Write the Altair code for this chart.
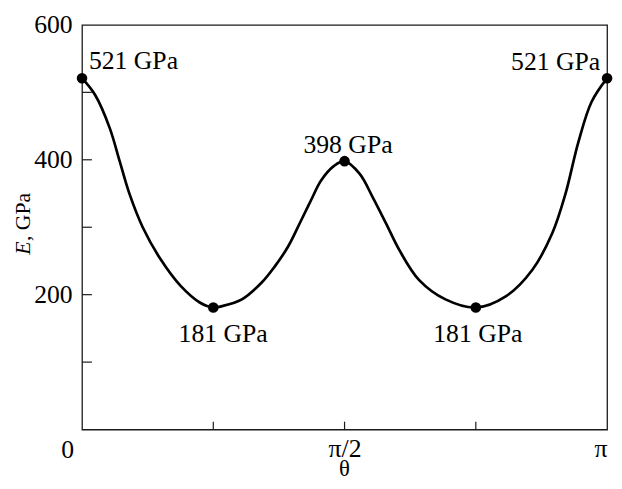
import altair as alt
import pandas as pd

# ---- data ----
theta_deg = [0, 4.5, 9.5, 12.9, 16.3, 20.8, 27.0, 33.8, 40.5, 45,
             48.0, 54.8, 61.6, 66.1, 70.6, 75.1, 78.5, 81.9, 86.4, 90,
             95.2, 99.7, 104.3, 108.8, 115.5, 124.6, 135,
             145.4, 154.4, 161.2, 165.7, 170.2, 174.7, 180]
modulus = [521, 496, 447, 398, 349, 300, 252, 213, 188, 181,
           183, 193, 218, 242, 271, 310, 340, 369, 391, 398,
           379, 344, 305, 266, 222, 193, 181,
           198, 237, 291, 349, 427, 486, 521]

key_theta = [0, 45, 90, 135, 180]
key_E = [521, 181, 398, 181, 521]
key_labels = ["521 GPa", "181 GPa", "398 GPa", "181 GPa", "521 GPa"]

y_minor_ticks = [100, 200, 300, 400, 500]
y_tick_labels = [200, 400, 600]
x_minor_ticks = [45, 90, 135]
x_tick_labels = [90, 180]

# ---- style ----
FONT = "Liberation Serif"
W, H = 532, 410
FRAME = "#1a1a1a"

curve = pd.DataFrame({"theta": theta_deg, "E": modulus})
keys = pd.DataFrame({"theta": key_theta, "E": key_E, "label": key_labels,
                     "idx": list(range(len(key_theta)))})

xs = alt.Scale(domain=[0, 180], nice=False, zero=False)
ys = alt.Scale(domain=[0, 600], nice=False)

x_axis = alt.Axis(values=x_tick_labels,
                  labelExpr="datum.value == 90 ? 'π/2' : 'π'",
                  title=None, labelPadding=6)
y_axis = alt.Axis(values=y_tick_labels, title=None, labelPadding=10)

line = alt.Chart(curve).mark_line(
    interpolate="catmull-rom", color="black", strokeWidth=2.7
).encode(
    x=alt.X("theta:Q", scale=xs, axis=x_axis),
    y=alt.Y("E:Q", scale=ys, axis=y_axis),
)

pts = alt.Chart(keys).mark_circle(size=115, color="black", opacity=1).encode(
    x=alt.X("theta:Q", scale=xs),
    y=alt.Y("E:Q", scale=ys),
)

# label placement (align, dx, dy) per key point
label_style = [("left", 7, -9), ("center", 10, 35), ("center", 3.5, -8),
               ("center", 2, 35), ("right", -7, -8)]
labels = []
for i, (al, dx, dy) in enumerate(label_style):
    labels.append(
        alt.Chart(keys).transform_filter(alt.datum.idx == i).mark_text(
            align=al, baseline="alphabetic", dx=dx, dy=dy,
            font=FONT, fontSize=26, color="black"
        ).encode(x=alt.X("theta:Q", scale=xs), y=alt.Y("E:Q", scale=ys),
                 text="label:N")
    )

yticks = alt.Chart(pd.DataFrame({"E": y_minor_ticks})).mark_rule(
    color=FRAME, strokeWidth=1.2
).encode(y=alt.Y("E:Q", scale=ys), x=alt.value(0), x2=alt.value(10))

xticks = alt.Chart(pd.DataFrame({"theta": x_minor_ticks})).mark_rule(
    color=FRAME, strokeWidth=1.2
).encode(x=alt.X("theta:Q", scale=xs), y=alt.value(H), y2=alt.value(H - 8))

origin = alt.Chart(pd.DataFrame({"theta": [0], "E": [0], "t": ["0"]})).mark_text(
    align="right", baseline="alphabetic", dx=-8, dy=29,
    font=FONT, fontSize=26, color="black"
).encode(x=alt.X("theta:Q", scale=xs), y=alt.Y("E:Q", scale=ys), text="t:N")

ytitle_e = alt.Chart(pd.DataFrame({"t": ["E"]})).mark_text(
    angle=270, align="left", baseline="alphabetic", fontStyle="italic",
    font=FONT, fontSize=22, color="black"
).encode(text="t:N", x=alt.value(-53), y=alt.value(233))

ytitle_rest = alt.Chart(pd.DataFrame({"t": [", GPa"]})).mark_text(
    angle=270, align="left", baseline="alphabetic",
    font=FONT, fontSize=22, color="black"
).encode(text="t:N", x=alt.value(-53), y=alt.value(219))

xtitle = alt.Chart(pd.DataFrame({"theta": [90], "t": ["θ"]})).mark_text(
    align="center", baseline="alphabetic",
    font=FONT, fontSize=23, color="black"
).encode(x=alt.X("theta:Q", scale=xs), y=alt.value(H + 47), text="t:N")

chart = alt.layer(
    line, yticks, xticks, pts, *labels, origin, ytitle_e, ytitle_rest, xtitle
).properties(
    width=W, height=H,
    padding={"left": 75, "top": 14, "right": 7, "bottom": 49},
    autosize=alt.AutoSizeParams(type="none"),
).configure_view(
    stroke=FRAME, strokeWidth=1.3
).configure_axis(
    grid=False, domain=False, ticks=False,
    labelFont=FONT, labelFontSize=26, labelColor="black",
)

chart.save("out.html", embed_options={"renderer": "svg", "actions": False})
